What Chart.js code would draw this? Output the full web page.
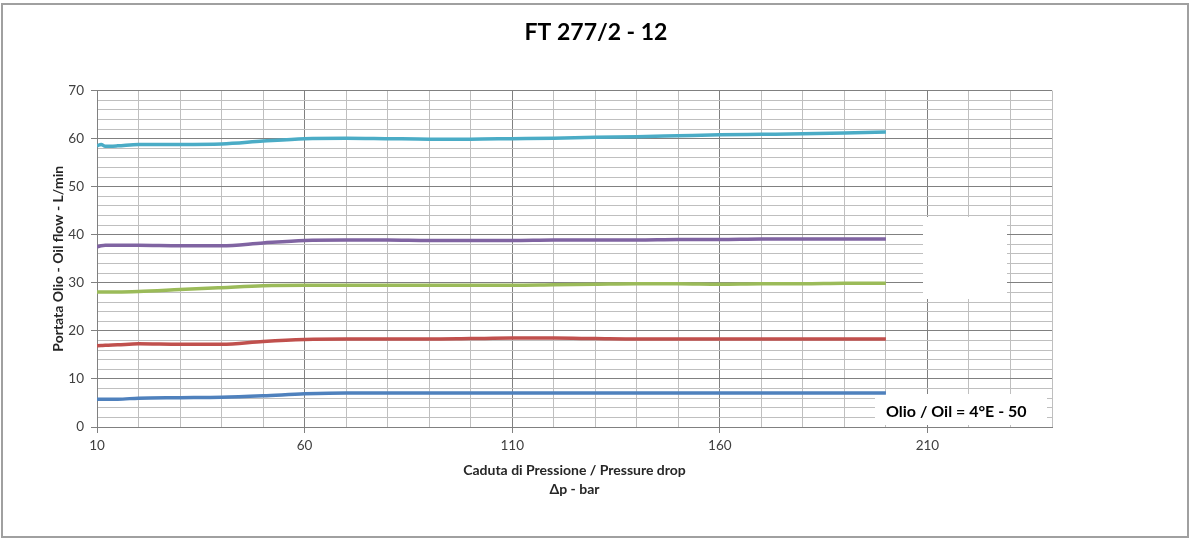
<!DOCTYPE html>
<html>
<head>
<meta charset="utf-8">
<script src="https://cdn.jsdelivr.net/npm/chart.js@4/dist/chart.umd.min.js"></script>
<style>
html,body{margin:0;padding:0;background:#fff;}
#wrap{width:1192px;height:539px;position:relative;}
</style>
</head>
<body>
<div id="wrap"><canvas id="c" width="1192" height="539"></canvas></div>
<script>
// Pressure drop (bar) at which the flows were read
const pressure = [10, 11, 12, 15, 20, 30, 40, 50, 60, 70, 80, 90, 100, 110, 120, 130, 140, 150, 160, 170, 180, 190, 200];
// Oil flow (L/min) for each curve
const flowCyan   = [58.5, 58.8, 58.4, 58.5, 58.8, 58.8, 58.9, 59.5, 60.0, 60.1, 60.0, 59.9, 59.9, 60.0, 60.1, 60.3, 60.4, 60.6, 60.8, 60.9, 61.0, 61.2, 61.4];
const flowPurple = [37.5, 37.7, 37.8, 37.8, 37.8, 37.7, 37.7, 38.3, 38.8, 38.9, 38.9, 38.8, 38.8, 38.8, 38.9, 38.9, 38.9, 39.0, 39.0, 39.1, 39.1, 39.1, 39.1];
const flowGreen  = [28.1, 28.1, 28.1, 28.1, 28.2, 28.6, 29.0, 29.4, 29.5, 29.5, 29.5, 29.5, 29.5, 29.5, 29.6, 29.7, 29.8, 29.8, 29.7, 29.8, 29.8, 29.9, 29.9];
const flowRed    = [16.9, 16.95, 17.0, 17.1, 17.3, 17.2, 17.2, 17.8, 18.2, 18.3, 18.3, 18.3, 18.4, 18.5, 18.5, 18.4, 18.3, 18.3, 18.3, 18.3, 18.3, 18.3, 18.3];
const flowBlue   = [5.75, 5.75, 5.8, 5.8, 6.0, 6.1, 6.2, 6.5, 6.9, 7.1, 7.1, 7.1, 7.1, 7.1, 7.1, 7.1, 7.1, 7.1, 7.1, 7.1, 7.1, 7.1, 7.1];
const xTickLabels = [10, 60, 110, 160, 210];
const yTickLabels = [0, 10, 20, 30, 40, 50, 60, 70];
const chartTitle = 'FT 277/2 - 12';
const xTitle = ['Caduta di Pressione / Pressure drop', 'Δp - bar'];
const yTitle = 'Portata Olio - Oil flow - L/min';
const noteText = 'Olio / Oil = 4°E - 50';

const MINOR = '#bfbfbf';
const MAJOR = '#808080';
const FONT = 'Lato, "Open Sans", sans-serif';

function series(vals, color) {
  return {
    data: pressure.map((p, i) => ({x: p, y: vals[i]})),
    borderColor: color,
    backgroundColor: color,
    borderWidth: 3.5,
    pointRadius: 0,
    tension: 0.3,
    cubicInterpolationMode: 'monotone',
    fill: false
  };
}

const framePlugin = {
  id: 'frame',
  beforeDraw(chart) {
    const ctx = chart.ctx;
    ctx.save();
    ctx.fillStyle = '#ffffff';
    ctx.fillRect(0, 0, chart.width, chart.height);
    ctx.strokeStyle = '#a0a0a0';
    ctx.lineWidth = 2;
    ctx.strokeRect(2, 4, 1186, 533);
    ctx.restore();
  },
  beforeDatasetsDraw(chart) {
    const ctx = chart.ctx;
    ctx.save();
    ctx.fillStyle = '#ffffff';
    ctx.fillRect(923, 217, 84, 82);
    ctx.fillRect(875, 394, 172, 31);
    ctx.restore();
  },
  afterDatasetsDraw(chart) {
    const ctx = chart.ctx;
    ctx.save();
    ctx.fillStyle = '#000000';
    ctx.font = 'bold 16px ' + FONT;
    ctx.textBaseline = 'middle';
    ctx.textAlign = 'left';
    ctx.fillText(noteText, 886, 412);
    ctx.restore();
  }
};

new Chart(document.getElementById('c'), {
  type: 'line',
  data: {
    datasets: [
      series(flowCyan, '#4BACC6'),
      series(flowPurple, '#8064A2'),
      series(flowGreen, '#9BBB59'),
      series(flowRed, '#C0504D'),
      series(flowBlue, '#4F81BD')
    ]
  },
  options: {
    responsive: false,
    animation: false,
    devicePixelRatio: 1,
    layout: {padding: {left: 0, right: 0, top: 0, bottom: 40}},
    plugins: {
      legend: {display: false},
      tooltip: {enabled: false},
      title: {
        display: true,
        text: chartTitle,
        color: '#000000',
        font: {family: FONT, size: 23, weight: 'bold', lineHeight: 1.2},
        padding: {top: 19, bottom: 44}
      }
    },
    scales: {
      x: {
        type: 'linear',
        min: 10,
        max: 240,
        afterFit(s) { s.height = 72; },
        border: {display: true, color: MAJOR, width: 1},
        grid: {
          color: (c) => (c.tick && (c.tick.value - 10) % 50 === 0) ? MAJOR : MINOR,
          tickColor: (c) => (c.tick && xTickLabels.includes(c.tick.value)) ? MAJOR : 'rgba(0,0,0,0)',
          tickLength: 6,
          lineWidth: 1
        },
        ticks: {
          stepSize: 10,
          autoSkip: false,
          maxRotation: 0,
          padding: 5,
          color: '#404040',
          font: {family: FONT, size: 13.5},
          callback: (v) => xTickLabels.includes(v) ? String(v) : ''
        },
        title: {
          display: true,
          text: xTitle,
          color: '#262626',
          font: {family: FONT, size: 14, weight: 'bold', lineHeight: '19px'},
          padding: {top: 0, bottom: 0}
        }
      },
      y: {
        type: 'linear',
        position: 'left',
        min: 0,
        max: 70,
        afterFit(s) { s.width = 97; },
        border: {display: true, color: MAJOR, width: 1},
        grid: {
          color: (c) => (c.tick && c.tick.value % 10 === 0) ? MAJOR : MINOR,
          tickColor: (c) => (c.tick && yTickLabels.includes(c.tick.value)) ? MAJOR : 'rgba(0,0,0,0)',
          tickLength: 6,
          lineWidth: 1
        },
        ticks: {
          stepSize: 2,
          autoSkip: false,
          padding: 7,
          color: '#404040',
          font: {family: FONT, size: 13.5},
          callback: (v) => yTickLabels.includes(v) ? String(v) : ''
        },
        title: {
          display: true,
          text: yTitle,
          color: '#262626',
          font: {family: FONT, size: 14, weight: 'bold', lineHeight: 1.2},
          padding: {top: 50, bottom: 0}
        }
      },
      y2: {
        type: 'linear',
        position: 'right',
        min: 0,
        max: 70,
        afterFit(s) { s.width = 140; },
        border: {display: false},
        grid: {display: false, drawTicks: false},
        ticks: {display: false}
      }
    }
  },
  plugins: [framePlugin]
});
</script>
</body>
</html>
